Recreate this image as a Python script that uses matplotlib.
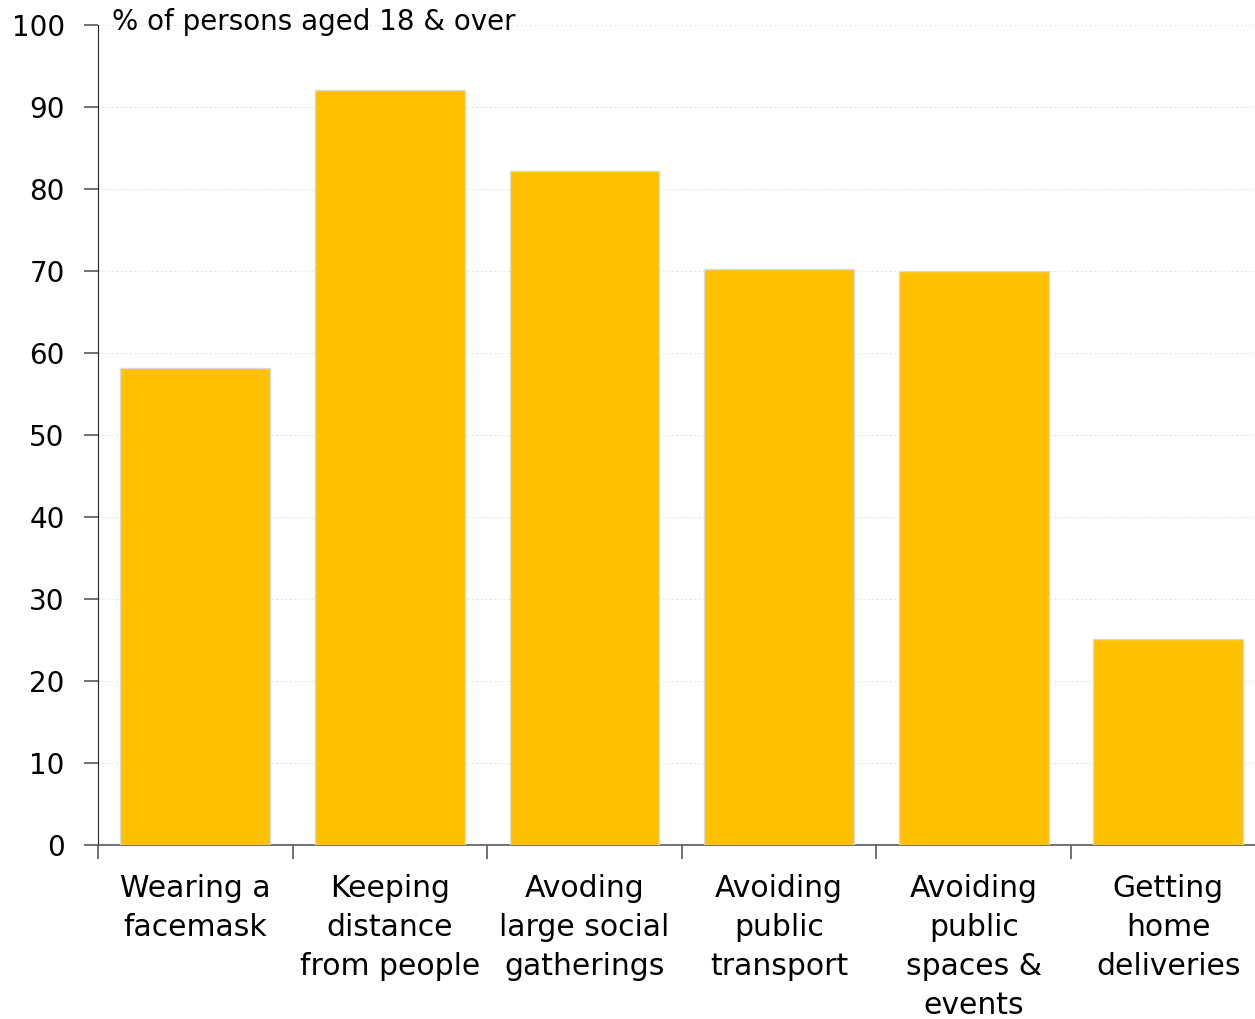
import matplotlib.pyplot as plt

categories = ['Wearing a\nfacemask', 'Keeping\ndistance\nfrom people', 'Avoding\nlarge social\ngatherings',
              'Avoiding\npublic\ntransport', 'Avoiding\npublic\nspaces &\nevents', 'Getting\nhome\ndeliveries']
values = [58.2, 92.1, 82.2, 70.2, 70.0, 25.1]
yticks = [0, 10, 20, 30, 40, 50, 60, 70, 80, 90, 100]

plt.rcParams['font.family'] = ['DejaVu Sans']

fig = plt.figure(figsize=(12.55, 10.19), dpi=100)
# axes run a little past the right edge of the figure, as in the original
ax = fig.add_axes([0.0781, 0.1708, 0.9304, 0.8047])

x = list(range(len(categories)))
ax.bar(x, values, width=0.77, color='#FFC000', edgecolor='#d9d9d9', linewidth=1, zorder=3)

ax.set_xlim(-0.5, len(categories) - 0.5)
ax.set_ylim(0, 100)
ax.set_yticks(yticks)
ax.set_yticklabels([str(t) for t in yticks], fontsize=20)
ax.yaxis.grid(True, color='#e6e6e6', linestyle=(0, (2, 2)), linewidth=0.8, zorder=0)

# ticks on category boundaries, labels centred under bars
ax.set_xticks([i - 0.5 for i in range(len(categories) + 1)])
ax.set_xticklabels([])
ax.set_xticks(x, minor=True)
ax.set_xticklabels(categories, minor=True, fontsize=21.5, linespacing=1.43)
ax.tick_params(axis='x', which='minor', length=0, pad=21)
ax.tick_params(axis='x', which='major', length=10, color='#595959', width=1.2)
ax.tick_params(axis='y', length=10, color='#595959', width=1.2, pad=14)

for s in ['top', 'right']:
    ax.spines[s].set_visible(False)
ax.spines['left'].set_color('#262626')
ax.spines['bottom'].set_color('#595959')
ax.spines['bottom'].set_linewidth(1.2)

ax.text(0.012, 1.004, '% of persons aged 18 & over', transform=ax.transAxes, fontsize=20,
        va='center', ha='left')

fig.savefig('out.png', dpi=100)
